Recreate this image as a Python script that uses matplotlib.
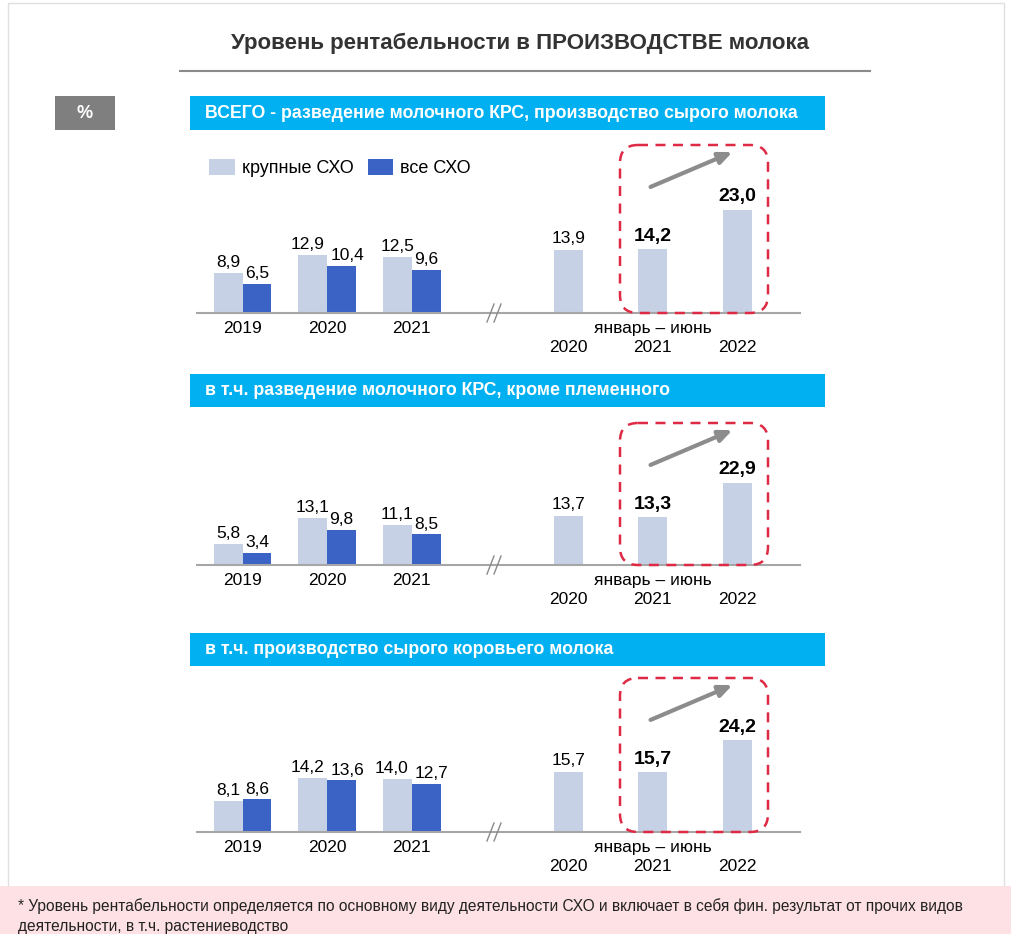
import matplotlib.pyplot as plt
from matplotlib.patches import Rectangle, FancyBboxPatch
from matplotlib.lines import Line2D

plt.rcParams['font.family'] = ['Liberation Sans', 'DejaVu Sans']

# ---------------------------------------------------
# DATA
# ---------------------------------------------------
title = "Уровень рентабельности в ПРОИЗВОДСТВЕ молока"
panel_titles = [
    "ВСЕГО - разведение молочного КРС, производство сырого молока",
    "в т.ч. разведение молочного КРС, кроме племенного",
    "в т.ч. производство сырого коровьего молока",
]
years_full = ["2019", "2020", "2021"]
years_half = ["2020", "2021", "2022"]
half_label = "январь – июнь"
legend_labels = ["крупные СХО", "все СХО"]

large_1 = [8.9, 12.9, 12.5]
all_1 = [6.5, 10.4, 9.6]
half_1 = [13.9, 14.2, 23.0]

large_2 = [5.8, 13.1, 11.1]
all_2 = [3.4, 9.8, 8.5]
half_2 = [13.7, 13.3, 22.9]

large_3 = [8.1, 14.2, 14.0]
all_3 = [8.6, 13.6, 12.7]
half_3 = [15.7, 15.7, 24.2]

footnote = ("* Уровень рентабельности определяется по основному виду деятельности СХО и включает в себя фин. результат от прочих видов\n"
            "деятельности, в т.ч. растениеводство")

# ---------------------------------------------------
# LAYOUT / STYLE
# ---------------------------------------------------
W, H = 1012, 934
C_LIGHT = "#c6d1e6"
C_DARK = "#3b63c6"
C_BANNER = "#00b0f0"
C_RED = "#de2a44"
C_GRID = "#a6a6a6"
FS = 12.5

left_pos = [0, 1, 2]
right_pos = [3.85, 4.85, 5.85]
bw = 0.34

# (banner top, banner bottom, baseline, px per unit, red box top)
panels = [
    (96, 130, 313, 4.5, 145),
    (374, 407, 565, 3.6, 423),
    (633, 666, 832, 3.8, 678),
]
series = [(large_1, all_1, half_1), (large_2, all_2, half_2), (large_3, all_3, half_3)]


def fmt(v):
    return f"{v:.1f}".replace(".", ",")


fig = plt.figure(figsize=(W / 100, H / 100), dpi=100)
fig.patch.set_facecolor("white")

# overlay in pixel coordinates for decoration
ov = fig.add_axes([0, 0, 1, 1])
ov.set_xlim(0, W)
ov.set_ylim(H, 0)
ov.axis("off")
ov.set_zorder(5)
ov.patch.set_alpha(0)

ov.add_patch(Rectangle((8, 3), 996, 930, fill=False, ec="#e0e0e0", lw=1))
ov.add_patch(Rectangle((0, 886), W, 48, color="#fde1e4", lw=0))
ov.text(18, 916, footnote, fontsize=11.2, va="center", ha="left", color="#222222", linespacing=1.35)

ov.text(520, 43, title, fontsize=16, fontweight="bold", ha="center", va="center", color="#333333")
ov.add_line(Line2D([180, 870], [71, 71], color="#8a8a8a", lw=1.5))

ov.add_patch(Rectangle((55, 96), 60, 34, color="#7f7f7f", lw=0))
ov.text(85, 113, "%", color="white", fontsize=13, fontweight="bold", ha="center", va="center")

for i, (bt, bb, base, scale, box_top) in enumerate(panels):
    # banner
    ov.add_patch(Rectangle((190, bt), 635, bb - bt, color=C_BANNER, lw=0))
    ov.text(205, (bt + bb) / 2, panel_titles[i], color="white", fontsize=12.8,
            fontweight="bold", ha="left", va="center")

    top = bb + 10
    ax = fig.add_axes([197 / W, 1 - base / H, 603 / W, (base - top) / H])
    ax.set_xlim(-0.54, 6.59)
    ax.set_ylim(0, (base - top) / scale)
    ax.axis("off")

    large, allv, half = series[i]
    b1 = ax.bar([p - bw / 2 for p in left_pos], large, bw, color=C_LIGHT, label=legend_labels[0])
    b2 = ax.bar([p + bw / 2 for p in left_pos], allv, bw, color=C_DARK, label=legend_labels[1])
    ax.bar(right_pos, half, bw, color=C_LIGHT)
    ax.axhline(0, color=C_GRID, lw=1.5, clip_on=False)

    for p, a, b in zip(left_pos, large, allv):
        # nudge labels apart when both are wide
        shift = 4 if (a >= 10 and b >= 10) else 0
        ax.annotate(fmt(a), (p - bw / 2, a), xytext=(-shift, 2),
                    textcoords="offset points", ha="center", va="bottom", fontsize=FS)
        ax.annotate(fmt(b), (p + bw / 2, b), xytext=(shift, 2),
                    textcoords="offset points", ha="center", va="bottom", fontsize=FS)
    for j, (p, v) in enumerate(zip(right_pos, half)):
        bold = j > 0
        ax.annotate(fmt(v), (p, v), xytext=(0, 3),
                    textcoords="offset points", ha="center", va="bottom",
                    fontsize=14 if bold else FS, fontweight="bold" if bold else "normal")

    for p, y in zip(left_pos, years_full):
        ax.annotate(y, (p, 0), xytext=(0, -11), textcoords="offset points",
                    ha="center", va="center", fontsize=FS, annotation_clip=False)
    for p, y in zip(right_pos, years_half):
        ax.annotate(y, (p, 0), xytext=(0, -25), textcoords="offset points",
                    ha="center", va="center", fontsize=FS, annotation_clip=False)
    ax.annotate(half_label, (right_pos[1], 0), xytext=(0, -11), textcoords="offset points",
                ha="center", va="center", fontsize=FS, annotation_clip=False)

    # axis break
    for dx in (0, 7):
        ov.add_line(Line2D([487 + dx, 494 + dx], [base + 9, base - 9], color="#8a8a8a", lw=1))

    # highlight box and arrow
    ov.add_patch(FancyBboxPatch((620, box_top), 148, base - box_top,
                                boxstyle="round,pad=0,rounding_size=18",
                                fill=False, ec=C_RED, lw=1.8, ls=(0, (4, 3))))
    ov.annotate("", xy=(735, box_top + 6), xytext=(648, box_top + 43),
                arrowprops=dict(arrowstyle="-|>,head_length=0.8,head_width=0.35",
                                color="#8c8c8c", lw=3))

    if i == 0:
        ax.legend(handles=[b1, b2], loc="upper left", ncol=2, frameon=False,
                  bbox_to_anchor=(202 / W, 1 - 152 / H), bbox_transform=fig.transFigure,
                  fontsize=13, handlelength=1.4, handleheight=1.0, handletextpad=0.4,
                  columnspacing=0.8, borderaxespad=0)

fig.savefig("out.png", dpi=100)
